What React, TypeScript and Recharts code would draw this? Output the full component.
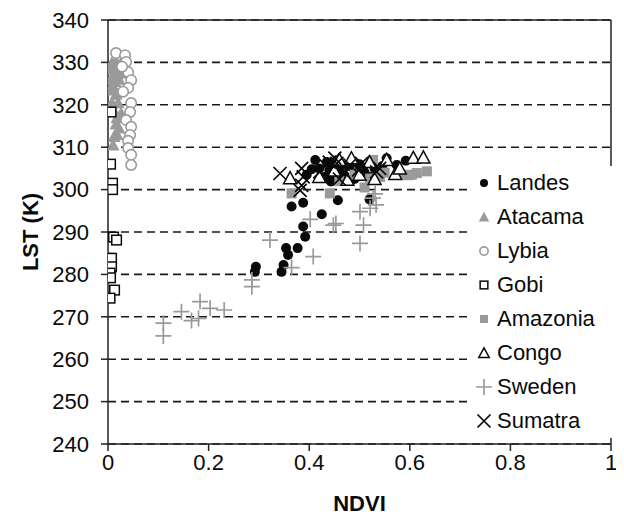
import React from 'react';
import { ScatterChart, Scatter, XAxis, YAxis, CartesianGrid, Legend } from 'recharts';

const xTicks = [0, 0.2, 0.4, 0.6, 0.8, 1];
const yTicks = [240, 250, 260, 270, 280, 290, 300, 310, 320, 330, 340];

const seriesNames = ['Landes', 'Atacama', 'Lybia', 'Gobi', 'Amazonia', 'Congo', 'Sweden', 'Sumatra'];

const landes: number[][] = [
  [0.294, 281.8], [0.292, 280.6], [0.345, 280.6], [0.349, 282.2], [0.354, 286.2], [0.358, 284.6],
  [0.377, 286.2], [0.388, 291.3], [0.392, 288.9], [0.365, 296.0], [0.388, 296.9], [0.425, 294.2],
  [0.457, 297.5], [0.520, 297.7], [0.412, 307.0], [0.420, 305.0], [0.430, 303.0], [0.443, 301.9],
  [0.450, 306.0], [0.460, 304.0], [0.470, 303.4], [0.480, 305.5], [0.490, 302.5], [0.500, 306.0],
  [0.510, 304.0], [0.521, 303.0], [0.530, 305.0], [0.554, 307.4], [0.574, 305.8], [0.592, 306.8],
  [0.440, 304.5], [0.455, 302.5], [0.395, 303.5], [0.545, 305.5], [0.435, 306.5], [0.465, 305.8],
  [0.448, 303.2], [0.405, 304.8],
];

const atacama: number[][] = [
  [0.004, 328.5], [0.008, 330.0], [0.012, 329.0], [0.016, 330.2], [0.020, 328.0], [0.024, 329.5],
  [0.028, 327.5], [0.030, 330.0], [0.006, 326.0], [0.010, 327.0], [0.014, 325.5], [0.018, 327.0],
  [0.022, 326.0], [0.004, 323.5], [0.010, 324.5], [0.016, 322.5], [0.008, 320.5], [0.020, 320.5],
  [0.012, 318.5], [0.018, 317.0], [0.026, 318.0], [0.012, 312.5], [0.018, 313.0], [0.010, 310.5],
  [0.022, 314.5], [0.016, 315.5],
];

const lybia: number[][] = [
  [0.016, 332.2], [0.034, 331.7], [0.036, 330.1], [0.040, 327.7], [0.046, 325.8], [0.040, 324.0],
  [0.030, 323.1], [0.046, 320.4], [0.044, 318.3], [0.036, 316.4], [0.046, 314.8], [0.044, 312.9],
  [0.040, 311.5], [0.040, 309.8], [0.046, 308.2], [0.046, 305.8], [0.028, 329.0],
];

const gobi: number[][] = [
  [0.006, 318.3], [0.005, 306.0], [0.009, 301.5], [0.009, 300.0], [0.011, 288.8], [0.017, 288.1],
  [0.001, 283.8], [0.007, 283.8], [0.007, 281.8], [0.004, 280.3], [0.005, 279.2], [0.013, 276.3],
  [0.004, 274.4],
];

const amazonia: number[][] = [
  [0.365, 299.1], [0.441, 299.1], [0.460, 302.0], [0.490, 303.5], [0.521, 302.6], [0.527, 307.0],
  [0.541, 303.0], [0.550, 304.0], [0.584, 303.5], [0.597, 303.4], [0.604, 303.5], [0.614, 303.9],
  [0.634, 304.3], [0.510, 300.5],
];

const congo: number[][] = [
  [0.362, 302.7], [0.420, 303.0], [0.450, 304.5], [0.476, 302.3], [0.484, 307.4], [0.500, 303.5],
  [0.520, 306.5], [0.554, 307.0], [0.571, 303.7], [0.580, 305.0], [0.607, 307.5], [0.627, 307.6],
  [0.460, 307.0], [0.530, 302.5],
];

const sweden: number[][] = [
  [0.110, 268.5], [0.110, 265.5], [0.146, 271.2], [0.166, 269.1], [0.180, 269.6], [0.183, 273.6],
  [0.203, 272.0], [0.231, 271.6], [0.286, 278.7], [0.286, 277.1], [0.322, 288.1], [0.365, 281.6],
  [0.408, 284.2], [0.402, 293.0], [0.453, 292.0], [0.448, 291.6], [0.501, 294.8], [0.508, 291.6],
  [0.501, 287.3], [0.521, 295.6], [0.533, 296.4], [0.531, 299.0], [0.527, 298.0],
];

const sumatra: number[][] = [
  [0.342, 303.8], [0.385, 305.0], [0.388, 303.0], [0.385, 301.0], [0.382, 299.8], [0.421, 304.2],
  [0.440, 306.5], [0.451, 307.4], [0.455, 306.2], [0.470, 304.0], [0.481, 305.8], [0.498, 304.6],
  [0.504, 306.2], [0.534, 304.2], [0.540, 305.0], [0.460, 302.5], [0.430, 306.0],
];

const seriesData = [landes, atacama, lybia, gobi, amazonia, congo, sweden, sumatra];
const kinds = ['dot', 'tri', 'ring', 'box', 'sq', 'otri', 'plus', 'x'];

const G = '#9a9a9a';
const K = '#0a0a0a';
const FONT = '"Liberation Sans", Arial, Helvetica, sans-serif';

function marker(kind: string, cx: number, cy: number, s: number) {
  switch (kind) {
    case 'dot':
      return <circle cx={cx} cy={cy} r={5 * s} fill={K} />;
    case 'tri':
      return <polygon points={`${cx},${cy - 6.5 * s} ${cx - 6.5 * s},${cy + 5.5 * s} ${cx + 6.5 * s},${cy + 5.5 * s}`} fill={G} />;
    case 'ring':
      return <circle cx={cx} cy={cy} r={5.2 * s} fill="#fff" stroke={G} strokeWidth={1.6} />;
    case 'box':
      return <rect x={cx - 4.8 * s} y={cy - 4.8 * s} width={9.6 * s} height={9.6 * s} fill="#fff" stroke={K} strokeWidth={1.5} />;
    case 'sq':
      return <rect x={cx - 5 * s} y={cy - 5 * s} width={10 * s} height={10 * s} fill={G} />;
    case 'otri':
      return <polygon points={`${cx},${cy - 6.5 * s} ${cx - 6.5 * s},${cy + 5.5 * s} ${cx + 6.5 * s},${cy + 5.5 * s}`} fill="#fff" stroke={K} strokeWidth={1.5} />;
    case 'plus':
      return <path d={`M${cx - 8 * s},${cy}H${cx + 8 * s}M${cx},${cy - 8 * s}V${cy + 8 * s}`} stroke={G} strokeWidth={1.7} fill="none" />;
    default:
      return <path d={`M${cx - 6.5 * s},${cy - 6.5 * s}L${cx + 6.5 * s},${cy + 6.5 * s}M${cx + 6.5 * s},${cy - 6.5 * s}L${cx - 6.5 * s},${cy + 6.5 * s}`} stroke={K} strokeWidth={1.7} fill="none" />;
  }
}

function makeShape(kind: string) {
  return (props: any) => {
    const { cx, cy } = props;
    if (cx == null || cy == null) return <g />;
    return <g>{marker(kind, cx, cy, 1)}</g>;
  };
}

function LegendBox() {
  return (
    <div style={{ background: '#fff', width: 142, fontFamily: FONT, fontSize: 22, color: '#0a0a0a' }}>
      {seriesNames.map((n, i) => {
        const small = kinds[i] === 'plus' || kinds[i] === 'x' ? 1 : 0.8;
        return (
          <div key={n} style={{ height: 34, display: 'flex', alignItems: 'center' }}>
            <svg width={27} height={34} style={{ flex: 'none' }}>
              {marker(kinds[i], 14, 17, small)}
            </svg>
            <span style={{ lineHeight: '34px', whiteSpace: 'nowrap' }}>{n}</span>
          </div>
        );
      })}
    </div>
  );
}

export default function App() {
  const tickStyle = { fontSize: 22, fill: '#0a0a0a', fontFamily: FONT };
  return (
    <div style={{ width: 616, height: 509, fontFamily: FONT }}>
      <ScatterChart width={616} height={509} margin={{ top: 2, right: 0, bottom: 0, left: 0 }}>
        <CartesianGrid vertical={false} horizontal stroke="#1a1a1a" strokeWidth={1.6} strokeDasharray="8 5" />
        <XAxis
          type="number"
          dataKey="x"
          domain={[0, 1]}
          ticks={xTicks}
          height={73}
          tick={tickStyle}
          tickSize={7}
          tickMargin={3}
          stroke="#222"
          strokeWidth={1.5}
          interval={0}
          allowDataOverflow
          label={{ value: 'NDVI', position: 'insideBottom', offset: 6, style: { fontSize: 22, fontWeight: 'bold', fill: '#0a0a0a', fontFamily: FONT } }}
        />
        <XAxis xAxisId="top" orientation="top" type="number" domain={[0, 1]} ticks={xTicks} height={10} tick={false} tickLine={false} stroke="#222" strokeWidth={1.5} />
        <YAxis
          type="number"
          dataKey="y"
          domain={[240, 340]}
          ticks={yTicks}
          width={100}
          tick={tickStyle}
          tickSize={7}
          tickMargin={12}
          stroke="#222"
          strokeWidth={1.5}
          interval={0}
          allowDataOverflow
          label={{ value: 'LST (K)', angle: -90, position: 'center', dx: -28, style: { fontSize: 22, fontWeight: 'bold', fill: '#0a0a0a', fontFamily: FONT } }}
        />
        <YAxis yAxisId="right" orientation="right" type="number" domain={[240, 340]} ticks={yTicks} width={13} tick={false} tickLine={false} stroke="#222" strokeWidth={1.5} />
        <Legend
          layout="vertical"
          align="center"
          verticalAlign="middle"
          content={() => <LegendBox />}
          wrapperStyle={{ left: 462, top: 158, width: 142, height: 272 }}
        />
        {seriesData.map((d, i) => (
          <Scatter
            key={seriesNames[i]}
            name={seriesNames[i]}
            data={d.map(([x, y]) => ({ x, y }))}
            shape={makeShape(kinds[i])}
            isAnimationActive={false}
          />
        ))}
      </ScatterChart>
    </div>
  );
}
